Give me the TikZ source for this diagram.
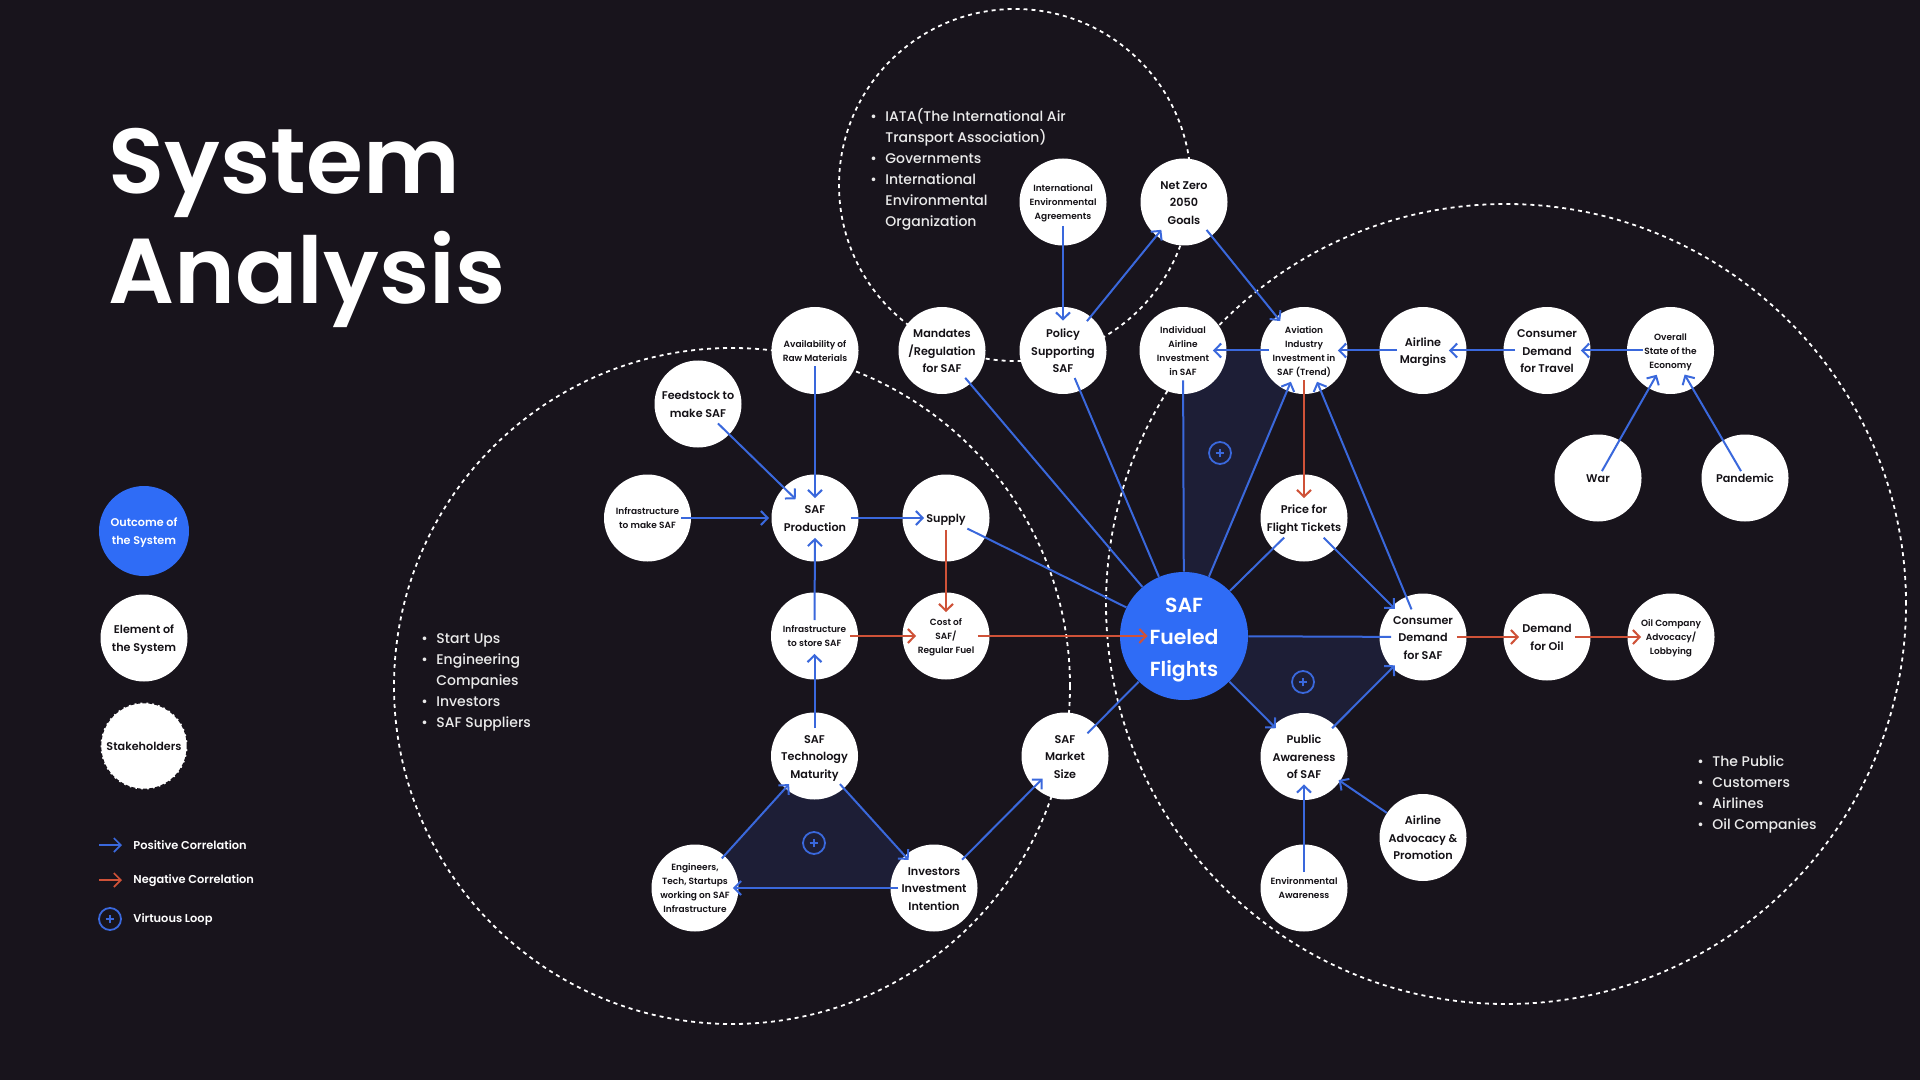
\documentclass[tikz,border=0pt]{standalone}
\usepackage{fontspec}
\setmainfont{Poppins Medium}
\newfontfamily\semib{Poppins SemiBold}
\usetikzlibrary{arrows.meta}
\definecolor{bgc}{HTML}{18141C}
\definecolor{loopc}{HTML}{1D1E36}
\definecolor{bluec}{HTML}{3A68DC}
\definecolor{redc}{HTML}{CF5238}
\definecolor{safc}{HTML}{2F6CF6}
\definecolor{inkc}{HTML}{141116}
\pgfdeclarelayer{bglay}
\pgfdeclarelayer{nodelay}
\pgfdeclarelayer{toplay}
\pgfdeclarelayer{redlay}
\pgfsetlayers{bglay,nodelay,main,toplay,redlay}
\tikzset{
 el/.style={circle,fill=white,inner sep=-3pt,minimum size=43.5pt,align=center,text=inkc,
   font=\semib\fontsize{5.6}{8.75}\selectfont},
 elsm/.style={el,font=\semib\fontsize{4.5}{7}\selectfont},
 ring/.style={circle,draw=white,inner sep=0pt,line width=0.9pt,dash pattern=on 2pt off 2pt},
 ends/.style 2 args={shorten <=-#1pt,shorten >=-#2pt},
 posarr/.style={draw=bluec,line width=1pt,-{Straight Barb[length=3.4pt,width=7pt]}},
 posline/.style={draw=bluec,line width=1pt},
 negarr/.style={posarr,draw=redc},
 loopfill/.style={fill=loopc},
 plusc/.style={circle,draw=bluec,line width=0.9pt,minimum size=11pt,inner sep=0pt,
   path picture={\draw[bluec,line width=1pt] (path picture bounding box.center) ++(-2.2pt,0) -- ++(4.4pt,0);
                 \draw[bluec,line width=1pt] (path picture bounding box.center) ++(0,-2.2pt) -- ++(0,4.4pt);}},
 listtxt/.style={text=white!92!black,align=left,anchor=north west,inner sep=0pt,font=\fontsize{7.0}{10.5}\selectfont},
 legtxt/.style={text=white,anchor=west,inner sep=0pt,font=\semib\fontsize{5.7}{7}\selectfont},
 titletxt/.style={text=white,anchor=base west,inner sep=0pt,font=\semib\fontsize{46.1}{55}\selectfont},
}
\newcommand{\bl}{\makebox[7.5pt][l]{•}}
\newcommand{\nb}{\hspace*{7.5pt}}
\newcommand{\sA}{\rule{0pt}{.84\baselineskip}}
\newcommand{\sB}{\rule[-.3\baselineskip]{0pt}{.3\baselineskip}}
\begin{document}
\begin{tikzpicture}[x=0.5pt,y=-0.5pt]
\useasboundingbox (0,0) rectangle (1920,1080);
\begin{pgfonlayer}{bglay}
 \fill[bgc] (0,0) rectangle (1920,1080);
\end{pgfonlayer}
\begin{pgfonlayer}{toplay}
 \node[el,fill=safc,text=white,minimum size=64pt,font=\semib\fontsize{10.2}{16}\selectfont] (saf) at (1184,636) {\sA SAF\\Fueled\\Flights\sB};
\end{pgfonlayer}
\begin{pgfonlayer}{nodelay}
 \node[el] (netzero) at (1184,202) {\sA Net Zero\\2050\\Goals\sB};
 \node[elsm] (intl) at (1063,202) {\sA International\\Environmental\\Agreements\sB};
 \node[el] (mand) at (942,350.5) {\sA Mandates\\/Regulation\\for SAF\sB};
 \node[el] (policy) at (1063,350.5) {\sA Policy\\Supporting\\SAF\sB};
 \node[elsm] (avail) at (815,350.5) {\sA Availability of\\Raw Materials\sB};
 \node[el] (feed) at (698,404) {\sA Feedstock to\\make SAF\sB};
 \node[elsm] (inframake) at (647.5,518) {\sA Infrastructure\\to make SAF\sB};
 \node[el] (prod) at (815,518) {\sA SAF\\Production\sB};
 \node[el] (supply) at (946,518) {\sA Supply\sB};
 \node[elsm] (infrastore) at (814.5,636) {\sA Infrastructure\\to store SAF\sB};
 \node[elsm] (cost) at (946,636) {\sA Cost of\\SAF/\\Regular Fuel\sB};
 \node[el] (tech) at (814.5,756) {\sA SAF\\Technology\\Maturity\sB};
 \node[el] (market) at (1065,756) {\sA SAF\\Market\\Size\sB};
 \node[elsm] (eng) at (695,888) {\sA Engineers,\\Tech, Startups\\working on SAF\\Infrastructure\sB};
 \node[el] (inv) at (934,888) {\sA Investors\\Investment\\Intention\sB};
 \node[elsm] (indiv) at (1183,350.5) {\sA Individual\\Airline\\Investment\\in SAF\sB};
 \node[elsm] (avia) at (1304,350.5) {\sA Aviation\\Industry\\Investment in\\SAF (Trend)\sB};
 \node[el] (margins) at (1423,350.5) {\sA Airline\\Margins\sB};
 \node[el] (travel) at (1547,350.5) {\sA Consumer\\Demand\\for Travel\sB};
 \node[elsm] (overall) at (1670.5,350.5) {\sA Overall\\State of the\\Economy\sB};
 \node[el] (war) at (1598,478) {\sA War\sB};
 \node[el] (pand) at (1745,478) {\sA Pandemic\sB};
 \node[el] (price) at (1304,518) {\sA Price for\\Flight Tickets\sB};
 \node[el] (cdsaf) at (1423,637) {\sA Consumer\\Demand\\for SAF\sB};
 \node[el] (oil) at (1547,637) {\sA Demand\\for Oil\sB};
 \node[elsm] (oilco) at (1671,637) {\sA Oil Company\\Advocacy/\\Lobbying\sB};
 \node[el] (public) at (1304,756.5) {\sA Public\\Awareness\\of SAF\sB};
 \node[el] (advoc) at (1423,837.5) {\sA Airline\\Advocacy \&\\Promotion\sB};
 \node[elsm] (env) at (1304,888) {\sA Environmental\\Awareness\sB};
 % legend
 \node[el,fill=safc,text=white,minimum size=45pt] (lgout) at (144,531) {\sA Outcome of\\the System\sB};
 \node[el] (lgel) at (144,638) {\sA Element of\\the System\sB};
 \node[el,draw=bgc,line width=0.8pt,dash pattern=on 2pt off 1pt] (lgst) at (144,746) {\sA Stakeholders\sB};
\end{pgfonlayer}
\begin{pgfonlayer}{bglay}
 \fill[loopfill] (indiv.center) -- (avia.center) -- (saf.center) -- cycle;
 \fill[loopfill] (saf.center) -- (cdsaf.center) -- (public.center) -- cycle;
 \fill[loopfill] (tech.center) -- (inv.center) -- (eng.center) -- cycle;
 \node[ring,minimum size=176pt] (rtop) at (1015,185) {};
 \node[ring,minimum size=338pt] (rleft) at (732,686) {};
 \node[ring,minimum size=400pt] (rright) at (1506,604) {};
\end{pgfonlayer}
% titles
\node[titletxt] (t1) at (108,194) {System};
\node[titletxt] (t2) at (108,304) {Analysis};
% lists
\node[listtxt] (ltop) at (870,108.5) {\bl IATA(The International Air\\\nb Transport Association)\\\bl Governments\\\bl International\\\nb Environmental\\\nb Organization};
\node[listtxt] (lleft) at (421,633) {\bl Start Ups\\\bl Engineering\\\nb Companies\\\bl Investors\\\bl SAF Suppliers};
\node[listtxt] (lright) at (1697,755) {\bl The Public\\\bl Customers\\\bl Airlines\\\bl Oil Companies};
% connectors
\draw[posarr,ends={10}{7}] (intl) -- (policy);
\draw[posarr,ends={3}{4}] (policy) -- (netzero);
\draw[posarr,ends={4}{3}] (netzero) -- (avia);
\draw[posarr,ends={14}{12}] (avail) -- (prod);
\draw[posarr,ends={8}{8.5}] (feed) -- (prod);
\draw[posarr,ends={5}{-1}] (inframake) -- (prod);
\draw[posarr,ends={4}{11}] (prod) -- (supply);
\draw[posarr,ends={14}{12}] (infrastore) -- (prod);
\draw[posarr,ends={8}{13}] (tech) -- (infrastore);
\draw[negarr,ends={16}{10}] (supply) -- (cost);
\draw[negarr,ends={4}{7}] (infrastore) -- (cost);
\draw[posline,ends={10}{0}] (supply) -- (saf);
\draw[posline,ends={4}{0}] (mand) -- (saf);
\draw[posline,ends={7}{0}] (policy) -- (saf);
\draw[posline,ends={7}{0}] (indiv) -- (saf);
\draw[posline,ends={8}{0}] (price) -- (saf);
\draw[posline,ends={6}{0}] (cdsaf) -- (saf);
\draw[posline,ends={6}{0}] (market) -- (saf);
\draw[posarr,ends={0}{5}] (saf) -- (avia);
\draw[posarr,ends={7}{5}] (cdsaf) -- (avia);
\draw[negarr,ends={7}{12}] (avia) -- (price);
\draw[posarr,ends={4.5}{7}] (avia) -- (indiv);
\draw[posarr,ends={9}{5}] (margins) -- (avia);
\draw[posarr,ends={6}{9}] (travel) -- (margins);
\draw[posarr,ends={8}{5}] (overall) -- (travel);
\draw[posarr,ends={18}{8}] (war) -- (overall);
\draw[posarr,ends={18}{8}] (pand) -- (overall);
\draw[posarr,ends={8}{2}] (price) -- (cdsaf);
\draw[negarr,ends={5}{8}] (cdsaf) -- (oil);
\draw[negarr,ends={8}{7}] (oil) -- (oilco);
\draw[posarr,ends={0}{2}] (saf) -- (public);
\draw[posarr,ends={2}{2}] (public) -- (cdsaf);
\draw[posarr,ends={14}{8}] (env) -- (public);
\draw[posarr,ends={0}{1}] (advoc) -- (public);
\draw[posarr,ends={2}{3}] (eng) -- (tech);
\draw[posarr,ends={3}{3}] (tech) -- (inv);
\draw[posarr,ends={4}{3}] (inv) -- (eng);
\draw[posarr,ends={2}{6}] (inv) -- (market);
\begin{pgfonlayer}{redlay}
 \draw[negarr,ends={6}{14}] (cost) -- (saf);
\end{pgfonlayer}
% loop marks
\node[plusc] (p1) at (1220,453) {};
\node[plusc] (p2) at (1303,682) {};
\node[plusc] (p3) at (814,843) {};
% legend keys
\coordinate (a1) at (99,845); \coordinate (a2) at (122,845);
\coordinate (b1) at (99,880); \coordinate (b2) at (122,880);
\draw[draw=bluec,line width=0.8pt,-{Straight Barb[length=3.5pt,width=7pt]}] (a1) -- (a2);
\draw[draw=redc,line width=0.8pt,-{Straight Barb[length=3.5pt,width=7pt]}] (b1) -- (b2);
\node[plusc] (p4) at (110,919) {};
\node[legtxt] (k1) at (133,845) {Positive Correlation};
\node[legtxt] (k2) at (133,880.5) {Negative Correlation};
\node[legtxt] (k3) at (133,920) {Virtuous Loop};
\end{tikzpicture}
\end{document}
